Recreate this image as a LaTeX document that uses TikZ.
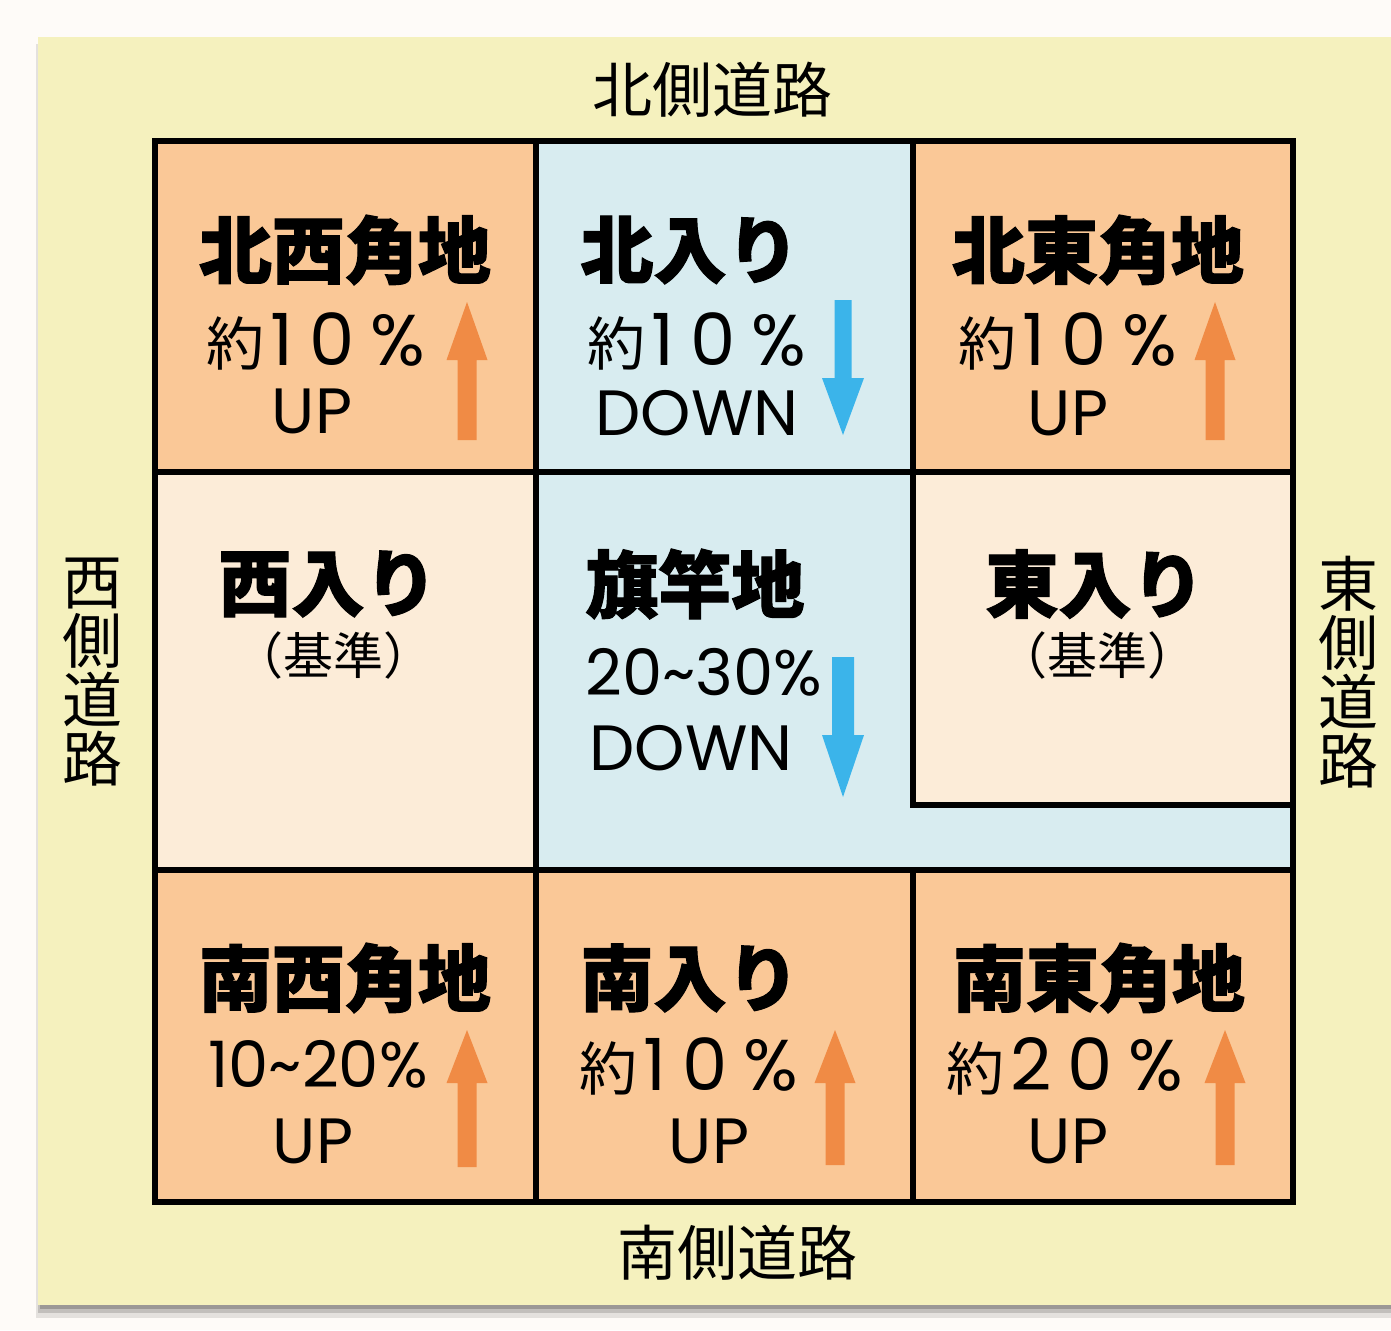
\documentclass[tikz,border=0pt]{standalone}
\usepackage{fontspec}
\newfontfamily\jp{Noto Sans CJK JP}[BoldFeatures={FakeBold=1.5}]
\newfontfamily\lat{Poppins}
\definecolor{pagebg}{HTML}{FEFBF8}
\definecolor{panelbg}{HTML}{F5F1BE}
\definecolor{lotorange}{HTML}{FAC897}
\definecolor{lotblue}{HTML}{D8ECF0}
\definecolor{lotcream}{HTML}{FCECD8}
\definecolor{arrorange}{HTML}{F08B45}
\definecolor{arrblue}{HTML}{3BB4EA}
\tikzset{
  title/.style={inner sep=0pt, font={\jp\bfseries\fontsize{73}{80}\selectfont}},
  road/.style={inner sep=0pt, font={\jp\fontsize{60}{66}\selectfont}},
  vroad/.style={inner sep=0pt, align=center, font={\jp\fontsize{60}{59}\selectfont}},
  pct/.style={inner sep=0pt, anchor=base, font={\lat\fontsize{72}{80}\selectfont}},
  updown/.style={inner sep=0pt, anchor=base, font={\lat\fontsize{64}{70}\selectfont}},
  kijun/.style={inner sep=0pt, font={\jp\fontsize{50}{56}\selectfont}},
  gridline/.style={line width=5.5pt, line cap=rect},
}
\newcommand{\yaku}{{\jp\fontsize{58}{64}\selectfont 約}}
\newcommand{\widepct}[2]{\yaku\kern6pt #1\kern16pt #2\kern16pt\%}
\newcommand{\lotArrowUp}[4]{%
  \fill[arrorange] (#1,#2) -- (#1+20.5,#3) -- (#1+9.5,#3) -- (#1+9.5,#4) -- (#1-9.5,#4) -- (#1-9.5,#3) -- (#1-20.5,#3) -- cycle;}
\newcommand{\lotArrowDown}[5]{%
  \fill[arrblue] (#1,#4) -- (#1+21,#3) -- (#1+#5,#3) -- (#1+#5,#2) -- (#1-#5,#2) -- (#1-#5,#3) -- (#1-21,#3) -- cycle;}
\begin{document}
\begin{tikzpicture}[x=1pt,y=-1pt]
\useasboundingbox (0,0) rectangle (1391,1330);
\fill[pagebg] (0,0) rectangle (1391,1330);
% panel shadow
\fill[black,opacity=0.10] (36,44) rectangle (1391,1318);
\fill[black,opacity=0.15] (38,42) rectangle (1391,1313);
\fill[black,opacity=0.20] (40,40) rectangle (1391,1309);
\fill[panelbg] (38,37) rectangle (1391,1305);
% lots
\fill[lotorange] (155,141) rectangle (536,472);
\fill[lotblue] (536,141) rectangle (913,472);
\fill[lotorange] (913,141) rectangle (1293,472);
\fill[lotcream] (155,472) rectangle (536,870);
\fill[lotblue] (536,472) -- (913,472) -- (913,805) -- (1293,805) -- (1293,870) -- (536,870) -- cycle;
\fill[lotcream] (913,472) rectangle (1293,805);
\fill[lotorange] (155,870) rectangle (536,1202);
\fill[lotorange] (536,870) rectangle (913,1202);
\fill[lotorange] (913,870) rectangle (1293,1202);
% boundaries
\draw[gridline] (155,141) rectangle (1293,1202);
\draw[gridline] (536,141) -- (536,1202);
\draw[gridline] (913,141) -- (913,805) -- (1293,805);
\draw[gridline] (913,870) -- (913,1202);
\draw[gridline] (155,472) -- (1293,472);
\draw[gridline] (155,870) -- (1293,870);
% roads
\node[road] (north) at (712,90) {北側道路};
\node[road] (south) at (737,1253) {南側道路};
\node[vroad] (west) at (92,672) {西\\側\\道\\路};
\node[vroad] (east) at (1348,672) {東\\側\\道\\路};
% NW
\node[title] (nwT) at (345,250) {北西角地};
\node[pct] (nwP) at (316,365) {\widepct{1}{0}};
\node[updown] (nwU) at (312,433) {UP};
\lotArrowUp{467}{302}{360}{440}
% N
\node[title] (nT) at (690,250) {北入り};
\node[pct] (nP) at (697,365) {\widepct{1}{0}};
\node[updown] (nU) at (697,435) {DOWN};
\lotArrowDown{843}{300}{378}{435}{8.5}
% NE
\node[title] (neT) at (1098,250) {北東角地};
\node[pct] (neP) at (1068,365) {\widepct{1}{0}};
\node[updown] (neU) at (1068,435) {UP};
\lotArrowUp{1215}{302}{360}{440}
% W
\node[title] (wT) at (328,584) {西入り};
\node[kijun] (wK) at (333,655) {（基準）};
% flag lot
\node[title] (fT) at (695,584) {旗竿地};
\node[updown] (fP) at (704,695) {20\char`~30\%};
\node[updown] (fU) at (691,770) {DOWN};
\lotArrowDown{843}{657}{735}{797}{11}
% E
\node[title] (eT) at (1095,584) {東入り};
\node[kijun] (eK) at (1097,655) {（基準）};
% SW
\node[title] (swT) at (345,978) {南西角地};
\node[updown] (swP) at (318,1087) {10\char`~20\%};
\node[updown] (swU) at (313,1163) {UP};
\lotArrowUp{467}{1030}{1083}{1167}
% S
\node[title] (sT) at (690,978) {南入り};
\node[pct] (sP) at (689,1090) {\widepct{1}{0}};
\node[updown] (sU) at (709,1163) {UP};
\lotArrowUp{835}{1030}{1083}{1165}
% SE
\node[title] (seT) at (1099,978) {南東角地};
\node[pct] (seP) at (1065,1090) {\widepct{2}{0}};
\node[updown] (seU) at (1068,1163) {UP};
\lotArrowUp{1225}{1030}{1083}{1165}
\end{tikzpicture}
\end{document}
